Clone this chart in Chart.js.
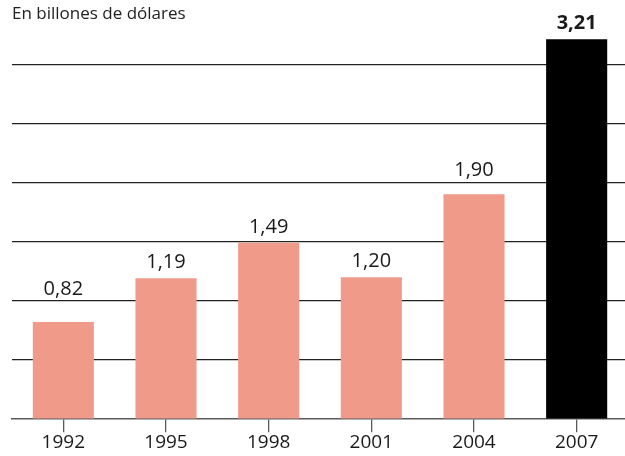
<!DOCTYPE html>
<html lang="es">
<head>
    <meta charset="UTF-8">
    <title>En billones de dólares</title>
    <script src="https://cdn.jsdelivr.net/npm/chart.js"></script>
    <style>
        html, body { margin: 0; padding: 0; background: #fff; overflow: hidden; }
        .chart-box { position: relative; width: 630px; height: 456px; }
    </style>
</head>
<body>
    <div class="chart-box">
        <canvas id="barGraph"></canvas>
    </div>

    <script>
        // Data
        const years = ['1992', '1995', '1998', '2001', '2004', '2007'];
        const amounts = [0.82, 1.19, 1.49, 1.20, 1.90, 3.21];
        const highlightYear = '2007';

        const FONT = "'Open Sans', 'Noto Sans', sans-serif";
        const fmt = v => v.toFixed(2).replace('.', ',');

        // Value labels above the bars, lifted above a gridline if they would cross it
        const valueLabels = {
            id: 'valueLabels',
            afterDatasetsDraw(chart) {
                const ctx = chart.ctx;
                const yScale = chart.scales.y;
                const grids = yScale.ticks
                    .map(t => t.value)
                    .filter(v => v > 0 && v <= 3.0001)
                    .map(v => yScale.getPixelForValue(v));
                const bars = chart.getDatasetMeta(0).data;
                ctx.save();
                ctx.textAlign = 'center';
                ctx.textBaseline = 'alphabetic';
                ctx.fillStyle = '#1a1a1a';
                bars.forEach((bar, i) => {
                    const bold = years[i] === highlightYear;
                    ctx.font = (bold ? 'bold ' : '') + '20px ' + FONT;
                    let base = bar.y - 10;
                    grids.forEach(gy => {
                        if (gy >= base - 16 && gy <= base + 3) base = gy - 6;
                    });
                    ctx.fillText(fmt(amounts[i]), bar.x, base);
                });
                ctx.restore();
            }
        };

        const barCtx = document.getElementById('barGraph').getContext('2d');
        const barGraph = new Chart(barCtx, {
            type: 'bar',
            data: {
                labels: years,
                datasets: [{
                    data: amounts,
                    backgroundColor: years.map(y => y === highlightYear ? '#000000' : '#f09a8a'),
                    borderWidth: 0,
                    barPercentage: 0.595,
                    categoryPercentage: 1
                }]
            },
            options: {
                responsive: true,
                maintainAspectRatio: false,
                animation: false,
                layout: { padding: { left: 12, right: 2, top: 0, bottom: 2 } },
                plugins: {
                    legend: { display: false },
                    tooltip: { enabled: false },
                    title: {
                        display: true,
                        text: 'En billones de dólares',
                        align: 'start',
                        color: '#222',
                        font: { family: FONT, size: 17, weight: 'normal', lineHeight: 1.2 },
                        padding: { top: 4, bottom: 4.2 }
                    }
                },
                scales: {
                    x: {
                        offset: true,
                        grid: {
                            offset: false,
                            drawOnChartArea: false,
                            drawTicks: true,
                            tickLength: 13,
                            color: '#5a5a5a',
                            lineWidth: 1.3
                        },
                        border: { display: true, color: '#5a5a5a', width: 1.6 },
                        ticks: {
                            padding: 0,
                            color: '#1a1a1a',
                            font: { family: FONT, size: 19, lineHeight: 1.15 }
                        }
                    },
                    y: {
                        min: 0,
                        max: 3.3,
                        ticks: { display: false, stepSize: 0.5 },
                        border: { display: false },
                        grid: {
                            drawTicks: false,
                            color: c => (c.tick && c.tick.value > 0 && c.tick.value <= 3.0001 &&
                                Math.abs(c.tick.value * 2 - Math.round(c.tick.value * 2)) < 1e-6)
                                ? '#222' : 'rgba(0,0,0,0)',
                            lineWidth: 1.2
                        },
                        afterFit: scale => { scale.width = 0; }
                    }
                }
            },
            plugins: [valueLabels]
        });
    </script>
</body>
</html>
